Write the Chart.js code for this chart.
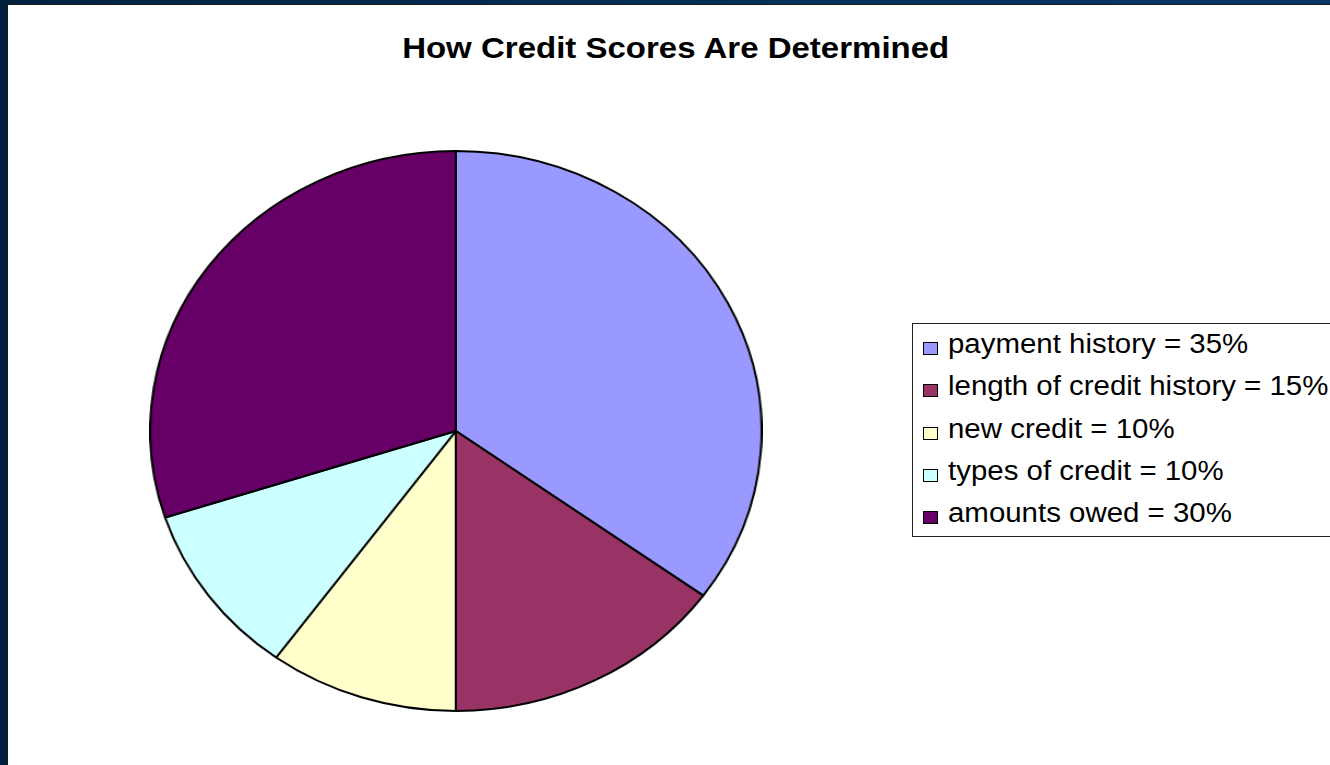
<!DOCTYPE html>
<html>
<head>
<meta charset="utf-8">
<script src="https://cdn.jsdelivr.net/npm/chart.js@4"></script>
<style>
    html, body { margin: 0; padding: 0; }
    body {
        width: 1330px; height: 765px; overflow: hidden; position: relative;
        background: linear-gradient(90deg, #00223f 0%, #03305a 60%, #063765 100%);
        font-family: "Liberation Sans", Arial, sans-serif;
    }
    #panel {
        position: absolute; left: 7px; top: 4px; right: 0; bottom: 0;
        background: #fff; border-left: 1px solid #1b1b1b; border-top: 1px solid #1b1b1b;
    }
    #title {
        position: absolute; left: 0; top: 33px; width: 1352px; text-align: center;
        font-weight: bold; font-size: 30px; line-height: 30px; color: #000;
    }
    #title span { display: inline-block; transform: scaleX(1.1); }
    #pieBox {
        position: absolute; left: 149px; top: 150px; width: 562px; height: 562px;
        transform: scaleX(1.092); transform-origin: 0 0;
    }
    #legend {
        position: absolute; left: 912px; top: 323px; width: 500px; height: 214px;
        border: 1px solid #222; box-sizing: border-box; background: #fff;
    }
    .item { position: relative; height: 42.3px; }
    .item .sw {
        position: absolute; left: 10px; top: 18px; width: 15px; height: 13px;
        box-sizing: border-box; border: 1.5px solid #000;
    }
    .item .tx {
        position: absolute; left: 35px; top: -1px; white-space: nowrap;
        font-size: 27px; line-height: 42.3px; color: #000;
        transform: scaleX(1.09); transform-origin: 0 0;
    }
</style>
</head>
<body>
<div id="panel"></div>
<div id="title"><span></span></div>
<div id="pieBox"><canvas id="pieChart"></canvas></div>
<div id="legend"></div>
<script>
const chartTitle = 'How Credit Scores Are Determined';
const categories = ['payment history', 'length of credit history', 'new credit', 'types of credit', 'amounts owed'];
const shares = [35, 15, 10, 10, 30];
const sliceColors = ['#9999FF', '#993366', '#FFFFCC', '#CCFFFF', '#660066'];

document.querySelector('#title span').textContent = chartTitle;

// legend built from the same arrays
const legendEl = document.getElementById('legend');
for (var i = 0; i < categories.length; i++) {
    const row = document.createElement('div');
    row.className = 'item';
    const sw = document.createElement('div');
    sw.className = 'sw';
    sw.style.background = sliceColors[i];
    const tx = document.createElement('div');
    tx.className = 'tx';
    tx.textContent = categories[i] + ' = ' + shares[i] + '%';
    row.appendChild(sw);
    row.appendChild(tx);
    legendEl.appendChild(row);
}

const pieChart = new Chart(document.getElementById('pieChart'), {
    type: 'pie',
    data: {
        labels: categories,
        datasets: [{
            data: shares,
            backgroundColor: sliceColors,
            borderColor: '#000',
            borderWidth: 2,
            hoverOffset: 0
        }]
    },
    options: {
        responsive: true,
        maintainAspectRatio: false,
        animation: false,
        events: [],
        layout: { padding: 0 },
        plugins: {
            legend: { display: false },
            title: { display: false },
            tooltip: { enabled: false }
        }
    }
});
</script>
</body>
</html>
